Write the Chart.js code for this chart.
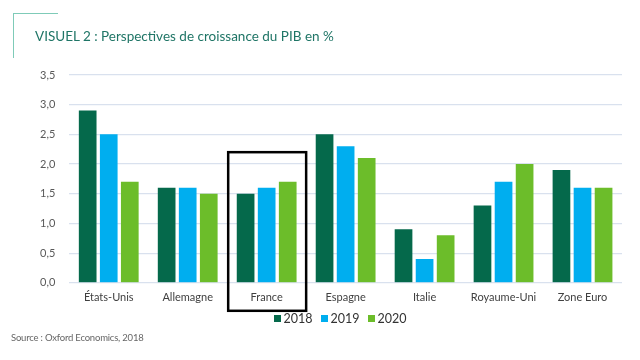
<!DOCTYPE html>
<html><head><meta charset="utf-8">
<script src="https://cdn.jsdelivr.net/npm/chart.js@4/dist/chart.umd.min.js"></script>
<style>
html,body{margin:0;padding:0;background:#fff;}
#wrap{position:relative;width:640px;height:360px;overflow:hidden;}
#c{position:absolute;left:0;top:0;}
.t{position:absolute;font-family:"Lato","DejaVu Sans",sans-serif;}
#title{left:35px;top:28px;font-size:13.5px;color:#1f7566;}
#src{left:11px;top:332px;font-size:9.5px;color:#666;letter-spacing:-0.2px;}
#dv{left:13px;top:13px;width:44px;height:44px;border-left:1.5px solid #7fcbb8;border-top:1.5px solid #7fcbb8;}
#legend{left:0;width:680px;top:311px;text-align:center;font-size:12.5px;color:#333;white-space:nowrap;}
#legend span.i{display:inline-block;margin:0 4px;}
#legend span.b{display:inline-block;width:7px;height:7px;margin-right:3px;vertical-align:1px;}
</style></head>
<body><div id="wrap">
<canvas id="c" width="640" height="360"></canvas>
<div class="t" id="dv"></div>
<div class="t" id="title">VISUEL 2 : Perspectives de croissance du PIB en %</div>
<div class="t" id="legend"></div>
<div class="t" id="src">Source : Oxford Economics, 2018</div>
</div>
<script>
const categories = ["États-Unis","Allemagne","France","Espagne","Italie","Royaume-Uni","Zone Euro"];
const seriesNames = ["2018","2019","2020"];
const v2018 = [2.9,1.6,1.5,2.5,0.9,1.3,1.9];
const v2019 = [2.5,1.6,1.6,2.3,0.4,1.7,1.6];
const v2020 = [1.7,1.5,1.7,2.1,0.8,2.0,1.6];
const colors = ["#05694b","#00aeef","#6cbd2a"];
const highlightCategory = "France";
const highlightTop = 2.2;

document.getElementById('legend').innerHTML = seriesNames.map((n,k)=>
  '<span class="i"><span class="b" style="background:'+colors[k]+'"></span>'+n+'</span>').join('');

const boxPlugin = {
  id:'box',
  afterDatasetsDraw(chart){
    const x = chart.scales.x, y = chart.scales.y, ctx = chart.ctx;
    const i = categories.indexOf(highlightCategory);
    const cw = (x.right - x.left)/categories.length;
    const cx = x.getPixelForValue(i);
    const top = y.getPixelForValue(highlightTop);
    const bottom = chart.chartArea.bottom + 28;
    ctx.save();
    ctx.strokeStyle = "#000"; ctx.lineWidth = 2.5;
    ctx.strokeRect(cx - cw/2 + 1, top, cw - 1, bottom - top);
    ctx.restore();
  }
};

const vals = [v2018,v2019,v2020];
new Chart(document.getElementById('c'),{
  type:'bar',
  data:{labels:categories,datasets:seriesNames.map((n,k)=>({label:n,data:vals[k],backgroundColor:colors[k],borderWidth:0,categoryPercentage:0.8,barPercentage:0.84}))},
  options:{
    responsive:false,animation:false,
    layout:{padding:{left:26,right:18,top:75,bottom:48}},
    plugins:{
      legend:{display:false},
      tooltip:{enabled:false}
    },
    scales:{
      x:{grid:{display:false,drawTicks:false},border:{display:false},ticks:{color:'#404040',font:{family:'Lato',size:11},padding:8}},
      y:{min:0,max:3.5,grid:{color:'#d9e1ee',lineWidth:1.2,drawTicks:false},border:{display:false},
         ticks:{stepSize:0.5,padding:14,color:'#595959',font:{family:'Lato',size:11},callback:v=>v.toFixed(1).replace('.',',')}}
    }
  },
  plugins:[boxPlugin]
});
</script>
</body></html>
